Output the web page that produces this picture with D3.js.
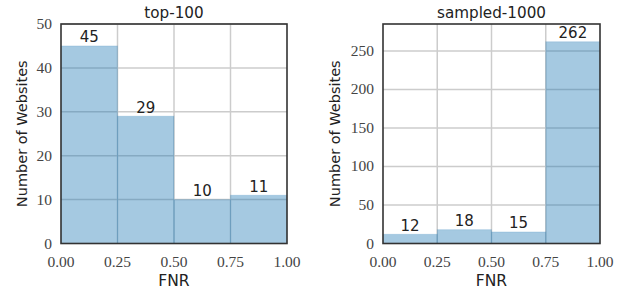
<!DOCTYPE html>
<html>
<head>
<meta charset="utf-8">
<script src="https://cdn.jsdelivr.net/npm/d3@7"></script>
<style>
	body { margin:0; background:white; }
	svg { display:block; }
</style>
</head>
<body>
<div id="chart"></div>
<script>
////////////////////////////////////////
// data
////////////////////////////////////////

var binEdges = [0, 0.25, 0.5, 0.75, 1.0];
var xTicks = [0, 0.25, 0.5, 0.75, 1.0];

var top100_title = 'top-100';
var top100_counts = [45, 29, 10, 11];
var top100_yTicks = [0, 10, 20, 30, 40, 50];
var top100_yMax = 50;

var sampled_title = 'sampled-1000';
var sampled_counts = [12, 18, 15, 262];
var sampled_yTicks = [0, 50, 100, 150, 200, 250];
var sampled_yMax = 285;

////////////////////////////////////////
// layout
////////////////////////////////////////

var W = 626, H = 292;
var plotTop = 24, plotBottom = 243.5;

var svg = d3.select('#chart').append('svg')
	.attr('width', W)
	.attr('height', H);

var sansFont = '"DejaVu Sans", sans-serif';
var serifFont = '"Liberation Serif", serif';

function drawPanel(left, right, title, counts, yTicks, yMax, labelLeft){
	var x = d3.scaleLinear().domain([0, 1]).range([left, right]);
	var y = d3.scaleLinear().domain([0, yMax]).range([plotBottom, plotTop]);
	var g = svg.append('g');

	// grid
	g.selectAll('.vgrid').data(xTicks.slice(1, -1)).enter().append('line')
		.attr('x1', function(d){ return x(d); })
		.attr('x2', function(d){ return x(d); })
		.attr('y1', plotTop).attr('y2', plotBottom)
		.attr('stroke', '#cccccc').attr('stroke-width', 1.5);
	g.selectAll('.hgrid').data(yTicks.slice(1)).enter().append('line')
		.attr('x1', left).attr('x2', right)
		.attr('y1', function(d){ return y(d); })
		.attr('y2', function(d){ return y(d); })
		.attr('stroke', '#cccccc').attr('stroke-width', 1.5);

	// bars
	var bins = counts.map(function(c, i){ return {x0: binEdges[i], x1: binEdges[i+1], n: c}; });
	g.selectAll('.bar').data(bins).enter().append('rect')
		.attr('x', function(d){ return x(d.x0); })
		.attr('width', function(d){ return x(d.x1) - x(d.x0); })
		.attr('y', function(d){ return y(d.n); })
		.attr('height', function(d){ return plotBottom - y(d.n); })
		.attr('fill', '#1f77b4')
		.attr('fill-opacity', 0.4)
		.attr('stroke', '#1f77b4')
		.attr('stroke-opacity', 0.15)
		.attr('stroke-width', 1);

	// bar labels
	g.selectAll('.lbl').data(bins).enter().append('text')
		.attr('x', function(d){ return (x(d.x0) + x(d.x1)) / 2; })
		.attr('y', function(d){ return y(d.n) - 3.5; })
		.attr('text-anchor', 'middle')
		.attr('font-family', sansFont)
		.attr('font-size', 15)
		.attr('fill', '#222')
		.text(function(d){ return d.n; });

	// frame
	g.append('rect')
		.attr('x', left).attr('y', plotTop)
		.attr('width', right - left).attr('height', plotBottom - plotTop)
		.attr('fill', 'none')
		.attr('stroke', '#333333')
		.attr('stroke-width', 1.6);

	// tick labels
	g.selectAll('.xt').data(xTicks).enter().append('text')
		.attr('x', function(d){ return x(d); })
		.attr('y', plotBottom + 23)
		.attr('text-anchor', 'middle')
		.attr('font-family', serifFont)
		.attr('font-size', 15.5)
		.attr('fill', '#444')
		.text(function(d){ return d.toFixed(2); });
	g.selectAll('.yt').data(yTicks).enter().append('text')
		.attr('x', left - 9)
		.attr('y', function(d){ return y(d) + 5; })
		.attr('text-anchor', 'end')
		.attr('font-family', serifFont)
		.attr('font-size', 15.5)
		.attr('fill', '#444')
		.text(function(d){ return d; });

	// title & axis labels
	g.append('text')
		.attr('x', (left + right) / 2)
		.attr('y', plotTop - 6)
		.attr('text-anchor', 'middle')
		.attr('font-family', sansFont)
		.attr('font-size', 15.2)
		.attr('fill', '#222')
		.text(title);
	g.append('text')
		.attr('x', (left + right) / 2)
		.attr('y', plotBottom + 42.5)
		.attr('text-anchor', 'middle')
		.attr('font-family', sansFont)
		.attr('font-size', 15.5)
		.attr('fill', '#222')
		.text('FNR');
	g.append('text')
		.attr('transform', 'translate(' + labelLeft + ',' + ((plotTop + plotBottom) / 2) + ') rotate(-90)')
		.attr('text-anchor', 'middle')
		.attr('font-family', sansFont)
		.attr('font-size', 14.5)
		.attr('fill', '#222')
		.text('Number of Websites');
}

drawPanel(61, 287, top100_title, top100_counts, top100_yTicks, top100_yMax, 26.5);
drawPanel(383, 600, sampled_title, sampled_counts, sampled_yTicks, sampled_yMax, 340);
</script>
</body>
</html>
